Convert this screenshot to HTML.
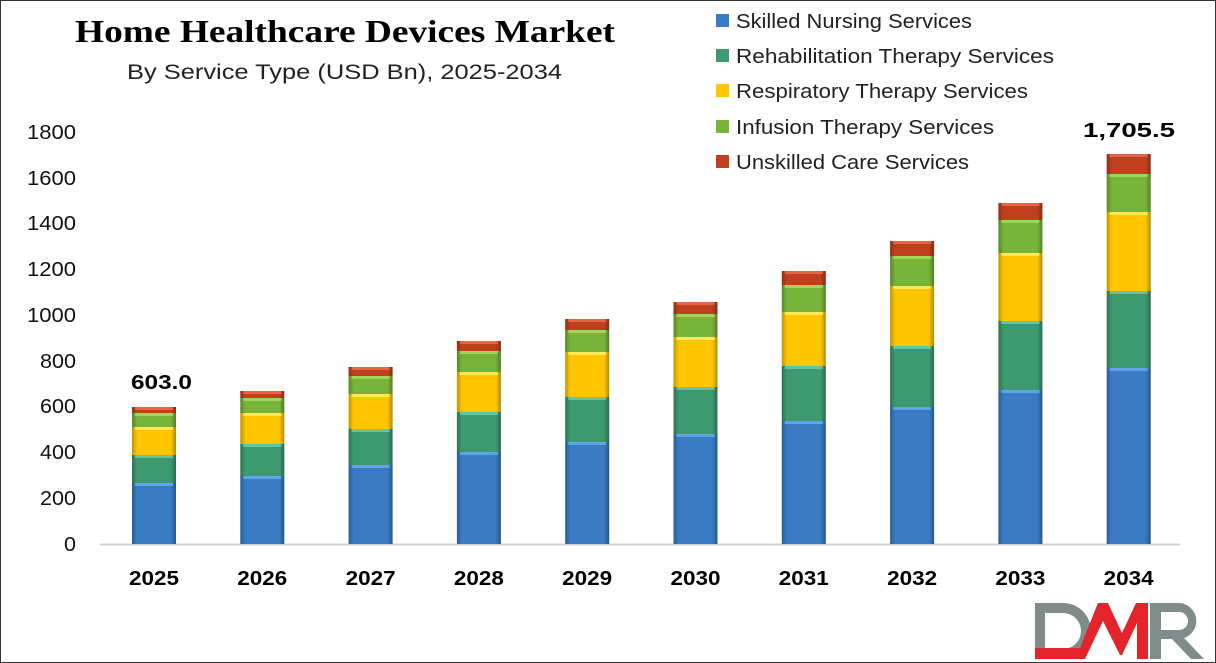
<!DOCTYPE html>
<html><head><meta charset="utf-8"><style>
html,body{margin:0;padding:0;background:#fff}
svg{display:block}
</style></head><body>
<svg id="s" width="1216" height="663" xmlns="http://www.w3.org/2000/svg" font-family="Liberation Sans, sans-serif">
<defs>
<linearGradient id="sh" x1="0" x2="1" y1="0" y2="0">
<stop offset="0" stop-color="#000" stop-opacity="0.25"/>
<stop offset="0.12" stop-color="#000" stop-opacity="0"/>
<stop offset="0.88" stop-color="#000" stop-opacity="0"/>
<stop offset="1" stop-color="#000" stop-opacity="0.3"/>
</linearGradient>
</defs>
<rect x="0.5" y="0.5" width="1215" height="662" fill="#fff" stroke="#333"/>
<text x="75" y="42" textLength="540" lengthAdjust="spacingAndGlyphs" font-family="Liberation Serif, serif" font-weight="bold" font-size="32">Home Healthcare Devices Market</text>
<text x="127" y="79" textLength="435" lengthAdjust="spacingAndGlyphs" font-size="21" fill="#222">By Service Type (USD Bn), 2025-2034</text>
<g font-size="20" fill="#111">
<text x="64" y="551" textLength="12" lengthAdjust="spacingAndGlyphs">0</text>
<text x="40" y="505" textLength="36" lengthAdjust="spacingAndGlyphs">200</text>
<text x="40" y="459" textLength="36" lengthAdjust="spacingAndGlyphs">400</text>
<text x="40" y="413" textLength="36" lengthAdjust="spacingAndGlyphs">600</text>
<text x="40" y="368" textLength="36" lengthAdjust="spacingAndGlyphs">800</text>
<text x="27" y="322" textLength="49" lengthAdjust="spacingAndGlyphs">1000</text>
<text x="27" y="276" textLength="49" lengthAdjust="spacingAndGlyphs">1200</text>
<text x="27" y="230" textLength="49" lengthAdjust="spacingAndGlyphs">1400</text>
<text x="27" y="185" textLength="49" lengthAdjust="spacingAndGlyphs">1600</text>
<text x="27" y="139" textLength="49" lengthAdjust="spacingAndGlyphs">1800</text>
</g>
<line x1="100" y1="544.5" x2="1180" y2="544.5" stroke="#d0d0d0" stroke-width="2"/>
<g id="bars"></g>
<g font-size="20" fill="#222">
<rect x="716" y="14" width="13" height="13" fill="#3a7cc4"/><text x="736" y="28" textLength="236" lengthAdjust="spacingAndGlyphs">Skilled Nursing Services</text>
<rect x="716" y="49" width="13" height="13" fill="#3d9970"/><text x="736" y="63" textLength="318" lengthAdjust="spacingAndGlyphs">Rehabilitation Therapy Services</text>
<rect x="716" y="84" width="13" height="13" fill="#ffc600"/><text x="736" y="98" textLength="292" lengthAdjust="spacingAndGlyphs">Respiratory Therapy Services</text>
<rect x="716" y="120" width="13" height="13" fill="#78b43a"/><text x="736" y="134" textLength="258" lengthAdjust="spacingAndGlyphs">Infusion Therapy Services</text>
<rect x="716" y="155" width="13" height="13" fill="#c0401e"/><text x="736" y="169" textLength="233" lengthAdjust="spacingAndGlyphs">Unskilled Care Services</text>
</g>
<text x="131" y="389" textLength="61" lengthAdjust="spacingAndGlyphs" font-weight="bold" font-size="20">603.0</text>
<text x="1083" y="137" textLength="92" lengthAdjust="spacingAndGlyphs" font-weight="bold" font-size="20">1,705.5</text>
<g font-weight="bold" font-size="20" id="xl"></g>
<g>
<path d="M1035 603 h28 a28 28 0 0 1 0 56 h-28 z M1045 613 v36 h18 a18 18 0 0 0 0 -36 z" fill="#7f8c8a" fill-rule="evenodd"/>
<path d="M1035 648 h45 l18 -45 h10 l14 30 l14 -30 h12 v56 h-11 v-36 l-15 32 h-2 l-17 -34 l-18 38 h-50 z" fill="#e3242b"/>
<path d="M1150 603 h30 a18 18 0 0 1 4 35 l20 21 h-13 l-19 -20 h-11 v20 h-11 z M1161 612 v18 h18 a9 9 0 0 0 0 -18 z" fill="#7f8c8a" fill-rule="evenodd"/>
</g>
</svg>
<script>
var tops=[[483,455,427,413,407],[476,444,413,398,391],[465,429,394,376,367],[452,412,372,351,341],[442,397,352,330,319],[434,387,337,314,302],[421,366,312,285,271],[407,346,286,256,241],[390,321,253,220,203],[368,291,212,174,154]];
var cols=["#3a7cc4","#3d9970","#ffc600","#78b43a","#c0401e"];
var hl=["#6aaef0","#6fd0a8","#fff06a","#a8e060","#e87050"];
var g=document.getElementById("bars"),xl=document.getElementById("xl"),h="",t="";
for(var i=0;i<10;i++){var cx=154+i*108.3,x=cx-22,bot=544;
for(var j=0;j<5;j++){var y=tops[i][j],hh=bot-y;
h+='<rect x="'+x+'" y="'+y+'" width="44" height="'+hh+'" fill="'+cols[j]+'"/>';
h+='<rect x="'+x+'" y="'+y+'" width="44" height="'+hh+'" fill="url(#sh)"/>';
h+='<rect x="'+(x+3)+'" y="'+y+'" width="38" height="'+Math.min(3,hh)+'" fill="'+hl[j]+'" opacity="0.8"/>';
bot=y;}
t+='<text x="'+(cx-25)+'" y="585" textLength="50" lengthAdjust="spacingAndGlyphs">'+(2025+i)+'</text>';}
g.innerHTML=h;xl.innerHTML=t;
</script>
</body></html>
